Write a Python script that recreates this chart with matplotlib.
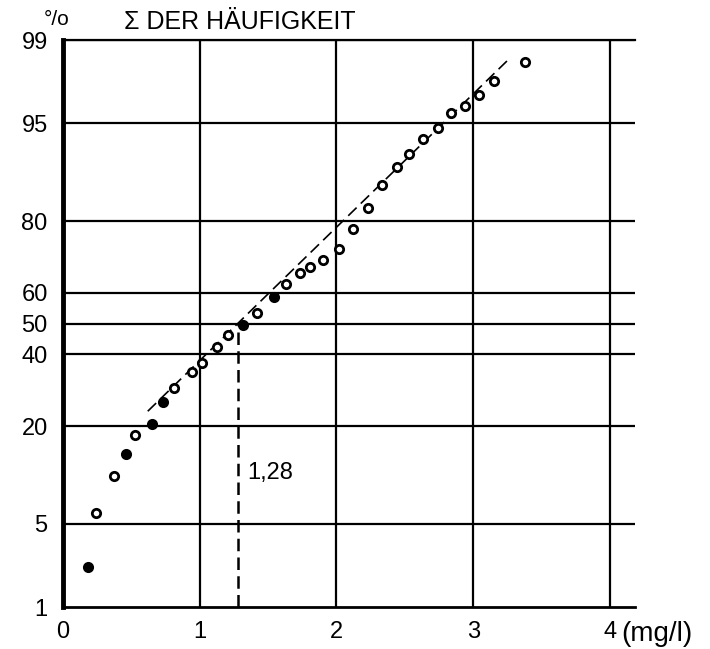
import numpy as np
import matplotlib
matplotlib.use("Agg")
import matplotlib.pyplot as plt
from matplotlib.transforms import blended_transform_factory
from statistics import NormalDist

# concentration (mg/l) and cumulative frequency (%)
conc = [0.18, 0.24, 0.37, 0.46, 0.53, 0.65, 0.73, 0.81, 0.94, 1.02, 1.13, 1.21,
        1.32, 1.42, 1.54, 1.63, 1.73, 1.81, 1.90, 2.02, 2.12, 2.23, 2.33, 2.44,
        2.53, 2.63, 2.74, 2.84, 2.94, 3.04, 3.15, 3.38]
cum_pct = [2.3, 6.0, 10.6, 14.3, 18.0, 20.4, 26.0, 30.0, 34.6, 37.4, 42.5, 46.4,
           49.7, 53.6, 58.8, 62.6, 66.0, 67.8, 69.9, 72.9, 78.1, 82.9, 87.3, 90.1,
           91.8, 93.5, 94.6, 95.8, 96.3, 97.0, 97.7, 98.4]
filled = [1, 0, 0, 1, 0, 1, 1, 0, 0, 0, 0, 0,
          1, 0, 1, 0, 0, 0, 0, 0, 0, 0, 0, 0,
          0, 0, 0, 0, 0, 0, 0, 0]

# fitted line endpoints and median
fit_x = [0.62, 3.26]
fit_pct = [23.6, 98.5]
median_x = 1.28
median_pct = [1, 50]

y_ticks = [1, 5, 20, 40, 50, 60, 80, 95, 99]
x_ticks = [0, 1, 2, 3, 4]

nd = NormalDist()
_inv = np.vectorize(nd.inv_cdf, otypes=[float])
_cdf = np.vectorize(nd.cdf, otypes=[float])


def forward(p):
    p = np.clip(np.asarray(p, dtype=float) / 100.0, 1e-6, 1 - 1e-6)
    return _inv(p)


def inverse(z):
    return _cdf(np.asarray(z, dtype=float)) * 100.0


plt.rcParams['font.family'] = ['Liberation Sans', 'DejaVu Sans']

fig = plt.figure(figsize=(7.1, 6.49), dpi=100)
ax = fig.add_axes([0.0887, 0.0647, 0.805, 0.8733])
ax.set_yscale('function', functions=(forward, inverse))
ax.set_xlim(0, 4.18)
ax.set_ylim(1, 99)

# grid
for p in y_ticks[1:]:
    ax.axhline(p, color='black', lw=1.6, zorder=1)
for x in x_ticks[1:]:
    ax.axvline(x, color='black', lw=1.6, zorder=1)

# fitted dashed line and median marker
ax.plot(fit_x, fit_pct, color='black', lw=1.2, dashes=(7, 3.5), zorder=2)
ax.plot([median_x, median_x], median_pct, color='black', lw=1.8,
        dashes=(5, 2.5), zorder=2)
ax.text(1.35, 11, "1,28", fontsize=17, va='center', ha='left')

# data points
for x, p, f in zip(conc, cum_pct, filled):
    ax.plot(x, p, 'o', ms=6, mew=2.0, mec='black',
            mfc='black' if f else 'white', zorder=3)

ax.spines['right'].set_visible(False)
ax.spines['left'].set_linewidth(3.5)
ax.spines['bottom'].set_linewidth(2.0)
ax.spines['top'].set_linewidth(1.6)

ax.set_yticks(y_ticks)
ax.set_yticklabels([str(v) for v in y_ticks])
ax.set_xticks(x_ticks)
ax.set_xticklabels([str(v) for v in x_ticks])
ax.yaxis.set_minor_locator(matplotlib.ticker.NullLocator())
ax.tick_params(axis='both', length=0, labelsize=17)
ax.tick_params(axis='y', pad=11)
ax.tick_params(axis='x', pad=10)

trans = blended_transform_factory(ax.transData, ax.transAxes)
ax.text(4.08, -0.024, "(mg/l)", transform=trans, fontsize=20, ha='left', va='top')

fig.text(0.062, 0.970, "°/o", fontsize=15, ha='left', va='center')
fig.text(0.175, 0.966, "Σ DER HÄUFIGKEIT", fontsize=18, ha='left', va='center')

fig.savefig("out.png", dpi=100)
